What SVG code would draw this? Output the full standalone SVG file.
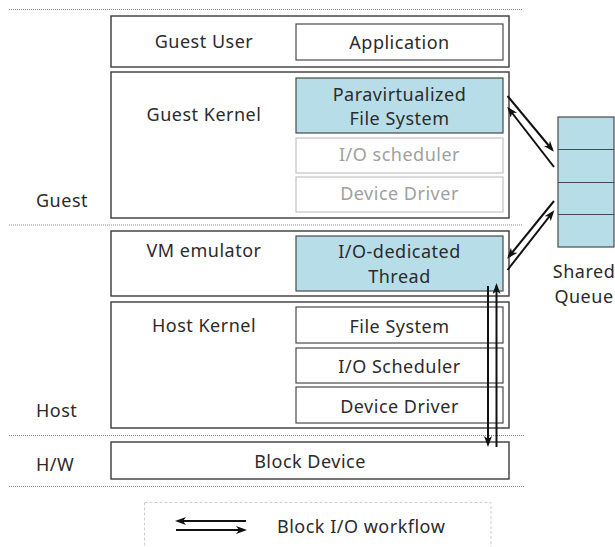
<svg xmlns="http://www.w3.org/2000/svg" width="615" height="547" viewBox="0 0 615 547">
  <style>
    text { font-family: "Noto Sans", "Open Sans", "DejaVu Sans", sans-serif; font-size: 18px; fill: #2b2b2b; letter-spacing: 0.5px; }
    .mid { text-anchor: middle; }
    .layer { fill: #ffffff; stroke: #3a3a3a; stroke-width: 1.4; }
    .box { fill: #ffffff; stroke: #4a4a4a; stroke-width: 1.2; }
    .hl { fill: #b7dde8; stroke: #4a4a4a; stroke-width: 1.2; }
    .dim { fill: #ffffff; stroke: #c4c4c4; stroke-width: 1.2; }
    .dimtext { fill: #a0a0a0; }
    .sep { stroke: #8a8a8a; stroke-width: 1; stroke-dasharray: 1 1; fill: none; }
    .flow { stroke: #111111; stroke-width: 2; fill: none; marker-end: url(#head); }
  </style>
  <defs>
    <marker id="head" markerUnits="userSpaceOnUse" markerWidth="12" markerHeight="9" refX="8" refY="4" orient="auto">
      <path d="M0,0 L11,4 L0,8 L3,4 z" fill="#111111"/>
    </marker>
  </defs>

  <!-- layer separators -->
  <g id="separators">
    <line class="sep" x1="9" y1="9.5" x2="522" y2="9.5"/>
    <line class="sep" x1="9" y1="225" x2="522" y2="225"/>
    <line class="sep" x1="9" y1="435.5" x2="524" y2="435.5"/>
    <line class="sep" x1="9" y1="486.5" x2="524" y2="486.5"/>
  </g>

  <!-- side labels -->
  <g id="labels">
    <text x="36" y="207">Guest</text>
    <text x="36" y="417">Host</text>
    <text x="36" y="471">H/W</text>
  </g>

  <g id="guest-user">
    <rect class="layer" x="111" y="16" width="398" height="51"/>
    <text class="mid" x="204" y="48">Guest User</text>
  </g>
  <g id="application">
    <rect class="box" x="296" y="24" width="207" height="36"/>
    <text class="mid" x="399.5" y="49">Application</text>
  </g>

  <g id="guest-kernel">
    <rect class="layer" x="111" y="72" width="398" height="146"/>
    <text class="mid" x="204" y="121">Guest Kernel</text>
  </g>
  <g id="pv-fs">
    <rect class="hl" x="296" y="78" width="207" height="55"/>
    <text class="mid" x="399.5" y="101">Paravirtualized</text>
    <text class="mid" x="399.5" y="125">File System</text>
  </g>
  <g id="guest-io-scheduler">
    <rect class="dim" x="296" y="138" width="207" height="35"/>
    <text class="mid dimtext" x="399.5" y="161">I/O scheduler</text>
  </g>
  <g id="guest-device-driver">
    <rect class="dim" x="296" y="177" width="207" height="35"/>
    <text class="mid dimtext" x="399.5" y="200">Device Driver</text>
  </g>

  <g id="vm-emulator">
    <rect class="layer" x="111" y="231" width="398" height="65"/>
    <text class="mid" x="204" y="257">VM emulator</text>
  </g>
  <g id="io-thread">
    <rect class="hl" x="296" y="236" width="207" height="55"/>
    <text class="mid" x="399.5" y="258">I/O-dedicated</text>
    <text class="mid" x="399.5" y="283">Thread</text>
  </g>

  <g id="host-kernel">
    <rect class="layer" x="111" y="302" width="398" height="126"/>
    <text class="mid" x="204" y="332">Host Kernel</text>
  </g>
  <g id="host-fs">
    <rect class="box" x="296" y="307" width="207" height="36"/>
    <text class="mid" x="399.5" y="333">File System</text>
  </g>
  <g id="host-io-scheduler">
    <rect class="box" x="296" y="348" width="207" height="35"/>
    <text class="mid" x="399.5" y="373">I/O Scheduler</text>
  </g>
  <g id="host-device-driver">
    <rect class="box" x="296" y="387" width="207" height="36"/>
    <text class="mid" x="399.5" y="413">Device Driver</text>
  </g>

  <g id="block-device">
    <rect class="layer" x="111" y="442" width="398" height="37"/>
    <text class="mid" x="310" y="468">Block Device</text>
  </g>

  <g id="shared-queue">
    <rect class="hl" x="558" y="117" width="56" height="130"/>
    <line x1="558" y1="149.5" x2="614" y2="149.5" stroke="#4a4a4a" stroke-width="1.2"/>
    <line x1="558" y1="182.5" x2="614" y2="182.5" stroke="#4a4a4a" stroke-width="1.2"/>
    <line x1="558" y1="214.5" x2="614" y2="214.5" stroke="#4a4a4a" stroke-width="1.2"/>
    <text class="mid" x="584" y="278">Shared</text>
    <text class="mid" x="584" y="303">Queue</text>
  </g>

  <!-- block I/O path -->
  <g id="connectors">
    <line class="flow" x1="507.5" y1="96" x2="552" y2="149.5"/>
    <line class="flow" x1="554" y1="167" x2="509" y2="109"/>
    <line class="flow" x1="554" y1="201" x2="509" y2="256.5"/>
    <line class="flow" x1="507.5" y1="270" x2="552.5" y2="212.5"/>
    <line class="flow" x1="488" y1="286" x2="488" y2="444"/>
    <line class="flow" x1="496.5" y1="447" x2="496.5" y2="286"/>
  </g>

  <g id="legend">
    <rect x="144.5" y="502.5" width="346.5" height="60" fill="none" stroke="#cfcfcf" stroke-width="1" stroke-dasharray="3 2"/>
    <line class="flow" x1="246" y1="521" x2="178" y2="521"/>
    <line class="flow" x1="176" y1="530" x2="244" y2="530"/>
    <text x="277" y="533">Block I/O workflow</text>
  </g>
</svg>
